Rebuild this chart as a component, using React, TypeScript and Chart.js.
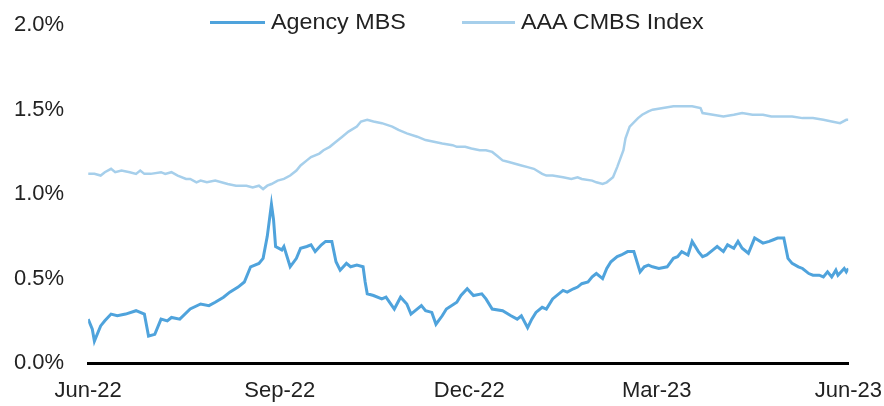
import React, { useEffect, useRef } from "react";
import { Chart, registerables } from "chart.js";

Chart.register(...registerables);

// Days since 1 Jun 2022
const mbsDays = [0,2,3,6,8,11,14,18,23,27,29,32,35,38,40,44,49,54,58,61,65,68,72,75,78,82,84,86,88,89,90,93,94,97,100,102,105,107,109,112,114,117,119,121,124,126,129,132,133,134,137,141,143,147,150,153,155,160,162,165,167,170,172,177,179,182,185,189,191,194,199,203,206,208,211,213,215,218,220,223,228,230,233,235,237,240,242,244,247,249,251,254,256,259,262,265,267,269,271,274,278,281,283,285,288,290,293,295,297,300,302,305,307,310,312,314,317,320,324,327,329,331,334,336,338,341,343,346,348,351,353,355,357,359,360,363,364,365];
const mbsValues = [0.26,0.20,0.13,0.22,0.25,0.29,0.28,0.29,0.31,0.29,0.16,0.17,0.26,0.25,0.27,0.26,0.32,0.35,0.34,0.36,0.39,0.42,0.45,0.48,0.57,0.59,0.62,0.75,0.94,0.85,0.69,0.67,0.69,0.57,0.62,0.68,0.69,0.70,0.66,0.70,0.72,0.72,0.60,0.55,0.59,0.57,0.58,0.57,0.48,0.41,0.40,0.38,0.39,0.32,0.39,0.35,0.29,0.34,0.31,0.30,0.23,0.28,0.32,0.36,0.40,0.44,0.40,0.41,0.38,0.32,0.31,0.28,0.26,0.28,0.21,0.26,0.30,0.33,0.32,0.38,0.43,0.42,0.44,0.45,0.47,0.48,0.51,0.53,0.50,0.56,0.60,0.63,0.64,0.66,0.66,0.54,0.57,0.58,0.57,0.56,0.57,0.62,0.63,0.66,0.64,0.72,0.66,0.63,0.64,0.67,0.69,0.66,0.70,0.68,0.72,0.68,0.65,0.74,0.71,0.72,0.73,0.74,0.74,0.62,0.59,0.57,0.56,0.53,0.52,0.52,0.51,0.54,0.51,0.55,0.52,0.56,0.54,0.56];

const cmbsDays = [0,3,6,8,11,13,16,20,23,25,27,30,35,37,40,43,47,49,52,54,57,61,64,67,71,76,79,82,84,86,88,91,94,97,100,102,105,107,111,113,116,119,122,125,129,131,134,137,141,146,149,153,158,160,162,166,170,175,177,181,184,188,191,194,196,199,202,205,208,211,214,218,220,223,228,232,235,237,242,244,247,249,252,254,257,258,260,264,266,269,271,276,281,285,290,294,295,300,305,310,314,319,324,328,333,338,343,348,353,357,361,364,365];
const cmbsValues = [1.12,1.12,1.11,1.13,1.15,1.13,1.14,1.13,1.12,1.14,1.12,1.12,1.13,1.12,1.13,1.11,1.09,1.09,1.07,1.08,1.07,1.08,1.07,1.06,1.05,1.05,1.04,1.05,1.03,1.05,1.06,1.08,1.09,1.11,1.14,1.17,1.20,1.22,1.24,1.26,1.28,1.31,1.34,1.37,1.40,1.43,1.44,1.43,1.42,1.40,1.38,1.36,1.34,1.33,1.32,1.31,1.30,1.29,1.28,1.28,1.27,1.26,1.26,1.25,1.23,1.20,1.19,1.18,1.17,1.16,1.15,1.12,1.11,1.11,1.10,1.09,1.10,1.09,1.08,1.07,1.06,1.07,1.10,1.16,1.26,1.33,1.40,1.45,1.47,1.49,1.50,1.51,1.52,1.52,1.52,1.51,1.48,1.47,1.46,1.47,1.48,1.47,1.47,1.46,1.46,1.46,1.45,1.45,1.44,1.43,1.42,1.44,1.44];

const tickDays = [0, 92, 183, 273, 365];
const tickLabels = ["Jun-22", "Sep-22", "Dec-22", "Mar-23", "Jun-23"];
const yTicks = [0, 0.5, 1.0, 1.5, 2.0];

const MBS_COLOR = "#4fa3dc";
const CMBS_COLOR = "#a6cfeb";
const FONT = "'Liberation Sans', Arial, sans-serif";

export default function App() {
  const ref = useRef<HTMLCanvasElement | null>(null);

  useEffect(() => {
    document.body.style.margin = "0";
    const ctx = ref.current!.getContext("2d")!;
    const chart = new Chart(ctx, {
      type: "line",
      data: {
        datasets: [
          {
            label: "Agency MBS",
            data: mbsDays.map((d, i) => ({ x: d, y: mbsValues[i] })),
            borderColor: MBS_COLOR,
            borderWidth: 3,
            pointRadius: 0,
            tension: 0,
          },
          {
            label: "AAA CMBS Index",
            data: cmbsDays.map((d, i) => ({ x: d, y: cmbsValues[i] })),
            borderColor: CMBS_COLOR,
            borderWidth: 2.5,
            pointRadius: 0,
            tension: 0,
          },
        ],
      },
      options: {
        animation: false,
        responsive: false,
        maintainAspectRatio: false,
        layout: { padding: { left: 14, top: 0, right: 0, bottom: -13 } },
        plugins: {
          legend: { display: false },
          tooltip: { enabled: false },
        },
        scales: {
          x: {
            type: "linear",
            min: 0,
            max: 365,
            grid: { display: false, drawTicks: false },
            border: { display: true, color: "#000", width: 3 },
            afterBuildTicks: (axis: any) => {
              axis.ticks = tickDays.map((v) => ({ value: v }));
            },
            ticks: {
              autoSkip: false,
              maxRotation: 0,
              padding: 2,
              color: "#222",
              font: { family: FONT, size: 22, lineHeight: 2.36 },
              callback: (_v: any, i: number) => tickLabels[i],
            },
          },
          y: {
            min: 0,
            max: 2.0,
            grid: { display: false, drawTicks: false },
            border: { display: false },
            afterBuildTicks: (axis: any) => {
              axis.ticks = yTicks.map((v) => ({ value: v }));
            },
            ticks: {
              padding: 12,
              crossAlign: "far",
              color: "#222",
              font: { family: FONT, size: 22 },
              callback: (v: any) => Number(v).toFixed(1) + "%",
            },
          },
        },
      },
    });
    return () => chart.destroy();
  }, []);

  const legendText: React.CSSProperties = {
    position: "absolute",
    top: 9,
    fontFamily: FONT,
    fontSize: 22,
    color: "#222",
    lineHeight: "26px",
    whiteSpace: "nowrap",
    transformOrigin: "left center",
    transform: "scaleX(1.06)",
  };

  return (
    <div style={{ position: "absolute", left: 0, top: 0, width: 884, height: 406, background: "#fff" }}>
      <canvas ref={ref} width={884} height={406} style={{ display: "block" }} />
      <div style={{ position: "absolute", left: 210, top: 21, width: 55, height: 3, background: MBS_COLOR }} />
      <div style={{ ...legendText, left: 271 }}>Agency MBS</div>
      <div style={{ position: "absolute", left: 462, top: 21, width: 53, height: 3, background: CMBS_COLOR }} />
      <div style={{ ...legendText, left: 521 }}>AAA CMBS Index</div>
    </div>
  );
}
